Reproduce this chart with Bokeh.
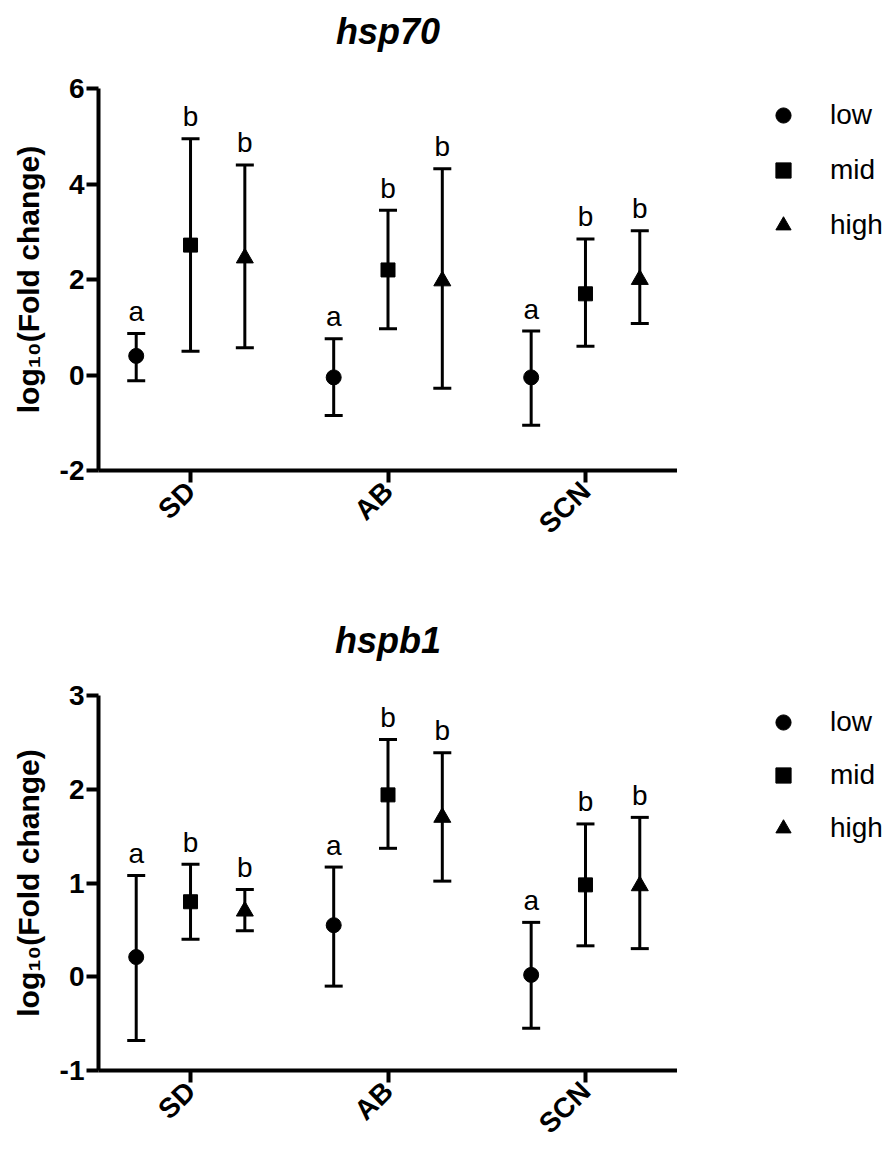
import math
from bokeh.plotting import figure
from bokeh.layouts import column, row
from bokeh.models import (ColumnDataSource, Whisker, TeeHead, FixedTicker,
                          Legend, LegendItem, Range1d, Title)
from bokeh.core.properties import value
from bokeh.embed import file_html
from bokeh.resources import INLINE

# ---------------- data ----------------
categories = ["SD", "AB", "SCN"]
groups = ["low", "mid", "high"]
markers = ["circle", "square", "triangle"]
marker_sizes = [15, 14, 17]
letters = {"low": ["a", "a", "a"], "mid": ["b", "b", "b"], "high": ["b", "b", "b"]}

hsp70_mean = {"low": [0.40, -0.05, -0.05], "mid": [2.72, 2.20, 1.70], "high": [2.45, 1.97, 2.00]}
hsp70_upper = {"low": [0.87, 0.76, 0.92], "mid": [4.95, 3.45, 2.85], "high": [4.40, 4.32, 3.02]}
hsp70_lower = {"low": [-0.12, -0.85, -1.05], "mid": [0.50, 0.97, 0.60], "high": [0.57, -0.28, 1.08]}

hspb1_mean = {"low": [0.21, 0.55, 0.02], "mid": [0.80, 1.94, 0.98], "high": [0.70, 1.70, 0.97]}
hspb1_upper = {"low": [1.08, 1.17, 0.58], "mid": [1.20, 2.53, 1.63], "high": [0.93, 2.39, 1.70]}
hspb1_lower = {"low": [-0.68, -0.10, -0.55], "mid": [0.40, 1.37, 0.33], "high": [0.49, 1.02, 0.30]}

hsp70_yticks = [-2, 0, 2, 4, 6]
hsp70_yticklabels = ["-2", "0", "2", "4", "6"]
hspb1_yticks = [-1, 0, 1, 2, 3]
hspb1_yticklabels = ["-1", "0", "1", "2", "3"]

FONT = "Liberation Sans"
YLABEL = "log\u2081\u2080(Fold change)"
X_START, X_END = -0.466, 2.466
OFFSETS = [-0.275, 0.0, 0.275]
MAIN_W, LEG_W = 677, 212


def make_panel(title, mean, upper, lower, yticks, yticklabels, height,
               border_top, border_bottom, legend_y, legend_spacing,
               title_standoff, spacer):
    y0, y1 = yticks[0], yticks[-1]
    p = figure(width=MAIN_W, height=height, x_range=(X_START, X_END), y_range=(y0, y1),
               output_backend="svg", toolbar_location=None,
               min_border_left=98, min_border_right=0,
               min_border_top=border_top, min_border_bottom=border_bottom)
    p.outline_line_color = None
    p.xgrid.visible = False
    p.ygrid.visible = False
    p.background_fill_color = "white"
    p.border_fill_color = "white"

    p.title.text = title
    p.title.align = "center"
    p.title.text_font = FONT
    p.title.text_font_style = "bold italic"
    p.title.text_font_size = "36px"
    p.title.text_color = "black"
    p.title.standoff = title_standoff
    if spacer:
        # blank band between the title and the plot area
        p.add_layout(Title(text=" ", text_font_size="28px", standoff=0), "above")

    for ax in (p.xaxis[0], p.yaxis[0]):
        ax.axis_line_width = 4
        ax.axis_line_color = "black"
        ax.major_tick_line_width = 4
        ax.major_tick_line_color = "black"
        ax.major_tick_in = 0
        ax.major_tick_out = 12
        ax.minor_tick_line_color = None
        ax.major_label_text_font = FONT
        ax.major_label_text_font_style = "bold"
        ax.major_label_text_color = "black"

    p.yaxis[0].ticker = FixedTicker(ticks=yticks)
    p.yaxis[0].major_label_overrides = {t: l for t, l in zip(yticks, yticklabels)}
    p.yaxis[0].major_label_text_font_size = "28px"
    p.yaxis[0].major_label_standoff = 2
    p.yaxis[0].axis_label = YLABEL
    p.yaxis[0].axis_label_text_font = FONT
    p.yaxis[0].axis_label_text_font_style = "bold"
    p.yaxis[0].axis_label_text_font_size = "30px"
    p.yaxis[0].axis_label_text_color = "black"
    p.yaxis[0].axis_label_standoff = 12

    p.xaxis[0].ticker = FixedTicker(ticks=list(range(len(categories))))
    p.xaxis[0].major_label_overrides = {i: c for i, c in enumerate(categories)}
    p.xaxis[0].major_label_orientation = math.pi / 4
    p.xaxis[0].major_label_text_font_size = "28px"
    p.xaxis[0].major_label_standoff = 4

    frame_h = height - border_top - border_bottom
    units_per_px = (y1 - y0) / frame_h

    # separate, axis-less figure holding the legend to the right of the plot
    q = figure(width=LEG_W, height=height, x_range=Range1d(0, 1), y_range=Range1d(0, 1),
               output_backend="svg", toolbar_location=None,
               min_border=0, min_border_left=0, min_border_right=0,
               min_border_top=0, min_border_bottom=0)
    q.axis.visible = False
    q.grid.visible = False
    q.outline_line_color = None
    q.background_fill_color = "white"
    q.border_fill_color = "white"

    items = []
    for gi, g in enumerate(groups):
        xs = [i + OFFSETS[gi] for i in range(len(categories))]
        src = ColumnDataSource(dict(x=xs, y=mean[g], upper=upper[g], lower=lower[g],
                                    ty=[u + 22 * units_per_px for u in upper[g]],
                                    txt=letters[g]))
        w = Whisker(base="x", upper="upper", lower="lower", source=src, dimension="height",
                    line_width=3, line_color="black",
                    upper_head=TeeHead(size=18, line_width=3, line_color="black"),
                    lower_head=TeeHead(size=18, line_width=3, line_color="black"))
        p.add_layout(w)
        p.scatter("x", "y", source=src, marker=markers[gi], size=marker_sizes[gi],
                  fill_color="black", line_color="black")
        p.text("x", "ty", text="txt", source=src, text_align="center",
               text_baseline="middle", text_font=value(FONT),
               text_font_size="28px", text_color="black")
        # legend proxy: same marker, placed outside the legend figure's visible range
        rq = q.scatter(x=[-5], y=[-5], marker=markers[gi], size=marker_sizes[gi],
                       fill_color="black", line_color="black")
        items.append(LegendItem(label=g, renderers=[rq]))

    legend = Legend(items=items, location=(87, legend_y), glyph_width=38, glyph_height=38,
                    spacing=legend_spacing, padding=0, margin=0, label_standoff=28,
                    label_text_font=FONT, label_text_font_size="28px",
                    label_text_color="black",
                    border_line_color=None, background_fill_alpha=0)
    q.add_layout(legend)
    return row(p, q, spacing=0)


r1 = make_panel("hsp70", hsp70_mean, hsp70_upper, hsp70_lower, hsp70_yticks,
                hsp70_yticklabels, 580, 88, 110, 226, 17, 8, True)
r2 = make_panel("hspb1", hspb1_mean, hspb1_upper, hspb1_lower, hspb1_yticks,
                hspb1_yticklabels, 573, 115, 82, 223, 15, 70, False)

layout = column(r1, r2, spacing=0)
open("out.html", "w").write(file_html(layout, INLINE))
